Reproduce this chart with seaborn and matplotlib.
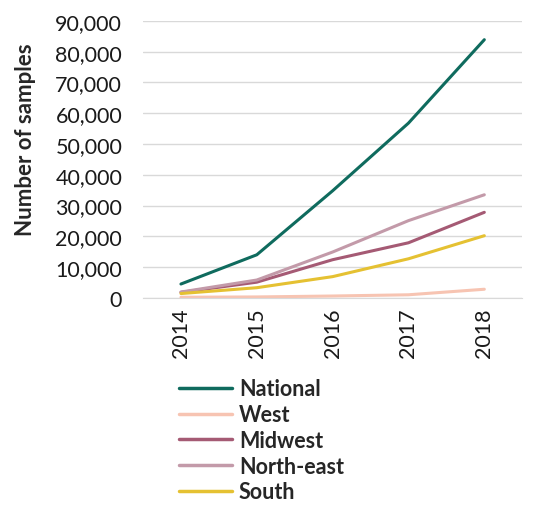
import seaborn as sns
import numpy as np
import pandas as pd
import matplotlib.pyplot as plt

# values
years = ["2014", "2015", "2016", "2017", "2018"]
national = [4500, 14000, 34800, 56800, 83900]
west = [200, 300, 600, 1000, 2800]
midwest = [1800, 5100, 12400, 17900, 27800]
north_east = [1900, 5800, 14900, 25100, 33500]
south = [1400, 3300, 6900, 12700, 20200]

regions = ["National", "West", "Midwest", "North-east", "South"]
colors = ["#0f6b5e", "#f7c4b2", "#a55a74", "#c39aa9", "#e5c132"]

df = pd.DataFrame({
    "Year": years * 5,
    "Samples": national + west + midwest + north_east + south,
    "Region": np.repeat(regions, len(years)),
})

sns.set_style("white")
plt.rcParams['font.family'] = ['Lato', 'DejaVu Sans']

fig = plt.figure(figsize=(5.48, 5.10), dpi=100)
ax = fig.add_axes([0.261, 0.414, 0.692, 0.543])

sns.lineplot(data=df, x="Year", y="Samples", hue="Region", palette=colors,
             hue_order=regions, linewidth=2.2, ax=ax, legend=False, sort=False)

ax.set_xlim(-0.5, 4.5)
ax.set_ylim(0, 90000)
ax.set_yticks(np.arange(0, 90001, 10000))
ax.yaxis.set_major_formatter(plt.FuncFormatter(lambda v, p: f"{int(v):,}"))
ax.grid(axis="y", color="#d9d9d9", linewidth=1)
ax.set_axisbelow(True)
for s in ["top", "right", "left"]:
    ax.spines[s].set_visible(False)
ax.spines["bottom"].set_color("#d9d9d9")
ax.tick_params(axis="both", length=0, labelsize=15.5, colors="#1a1a1a")
ax.tick_params(axis="x", rotation=90, pad=7)
ax.tick_params(axis="y", pad=15)
ax.set_xlabel("")
ax.set_ylabel("Number of samples", fontsize=16, fontweight="bold", labelpad=14)
ax.yaxis.label.set_y(0.574)

handles = [plt.Line2D([], [], color=c, linewidth=2.5) for c in colors]
leg = fig.legend(handles, regions, loc="upper left", bbox_to_anchor=(0.307, 0.277),
                 frameon=False, handlelength=2.45, handletextpad=0.33,
                 labelspacing=0.22, borderpad=0, prop={"size": 15.5, "weight": "bold"})

fig.savefig("out.png", dpi=100)
